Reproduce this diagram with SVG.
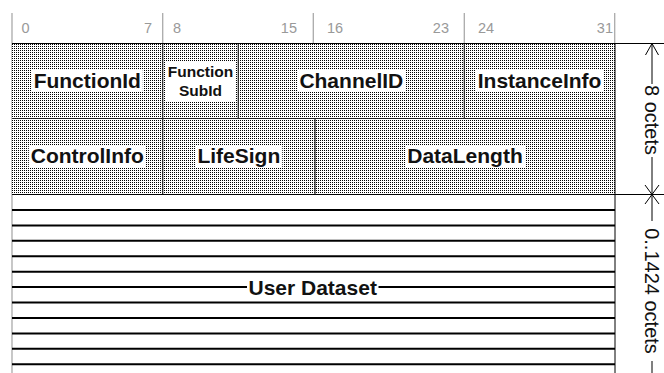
<svg xmlns="http://www.w3.org/2000/svg" width="664" height="373" viewBox="0 0 664 373">
<defs>
<pattern id="dots" width="2" height="2" patternUnits="userSpaceOnUse">
<rect width="2" height="2" fill="#fff"/>
<rect x="0" y="0" width="1" height="1" fill="#000"/>
</pattern>
<style>
.bit{font-family:"Liberation Sans",Arial,sans-serif;font-size:14.5px;fill:#999}
.lbl{font-family:"Liberation Sans",Arial,sans-serif;font-size:21px;font-weight:bold;fill:#111;text-anchor:middle}
.sm{font-size:15.5px}
.dim{font-family:"Liberation Sans",Arial,sans-serif;font-size:20px;fill:#111;text-anchor:middle}
.bg{fill:#fff}
.fld{fill:url(#dots)}
.tick{stroke:#aaa;stroke-width:1.3;fill:none}
.div{stroke:#222;stroke-width:1.2;fill:none}
.ud{stroke:#000;stroke-width:2;fill:none}
.ln{stroke:#000;stroke-width:1;fill:none}
</style>
</defs>
<rect width="664" height="373" fill="#fff"/>

<g id="bit-ruler">
<line class="tick" x1="12" y1="13" x2="12" y2="373"/>
<line class="tick" x1="162.7" y1="13" x2="162.7" y2="43"/>
<line class="tick" x1="313.3" y1="13" x2="313.3" y2="43"/>
<line class="tick" x1="464.3" y1="13" x2="464.3" y2="43"/>
<line class="tick" x1="614.7" y1="13" x2="614.7" y2="43"/>
<text class="bit" x="21.5" y="33">0</text>
<text class="bit" x="152" y="33" text-anchor="end">7</text>
<text class="bit" x="173" y="33">8</text>
<text class="bit" x="297" y="33" text-anchor="end">15</text>
<text class="bit" x="327" y="33">16</text>
<text class="bit" x="449" y="33" text-anchor="end">23</text>
<text class="bit" x="478" y="33">24</text>
<text class="bit" x="613" y="33" text-anchor="end">31</text>
</g>

<g id="FunctionId">
<rect class="fld" x="12" y="43" width="150.7" height="75"/>
<rect class="bg" x="31.8" y="70" width="111" height="22"/>
<text class="lbl" x="87.3" y="87.5">FunctionId</text>
</g>
<g id="FunctionSubId">
<rect class="fld" x="162.7" y="43" width="75.6" height="75"/>
<rect class="bg" x="165.5" y="62" width="70" height="39"/>
<text class="lbl sm" x="200.5" y="77">Function</text>
<text class="lbl sm" x="200.5" y="96">SubId</text>
</g>
<g id="ChannelID">
<rect class="fld" x="238.3" y="43" width="226" height="75"/>
<rect class="bg" x="297.3" y="70" width="108" height="22"/>
<text class="lbl" x="351.3" y="87.5">ChannelID</text>
</g>
<g id="InstanceInfo">
<rect class="fld" x="464.3" y="43" width="150.7" height="75"/>
<rect class="bg" x="475.6" y="70" width="128" height="22"/>
<text class="lbl" x="539.6" y="87.5">InstanceInfo</text>
</g>
<g id="ControlInfo">
<rect class="fld" x="12" y="118" width="150.7" height="76"/>
<rect class="bg" x="28.8" y="145.5" width="117" height="22.5"/>
<text class="lbl" x="87.3" y="163">ControlInfo</text>
</g>
<g id="LifeSign">
<rect class="fld" x="162.7" y="118" width="152.3" height="76"/>
<rect class="bg" x="195.3" y="145.5" width="87" height="22.5"/>
<text class="lbl" x="238.8" y="163">LifeSign</text>
</g>
<g id="DataLength">
<rect class="fld" x="315" y="118" width="300" height="76"/>
<rect class="bg" x="405" y="145.5" width="120" height="22.5"/>
<text class="lbl" x="465" y="163">DataLength</text>
</g>

<g id="header-borders">
<line class="div" x1="12" y1="118.5" x2="615" y2="118.5" stroke="#666"/>
<line class="div" x1="162.7" y1="43" x2="162.7" y2="194"/>
<line class="div" x1="238.3" y1="43" x2="238.3" y2="118"/>
<line class="div" x1="464.3" y1="43" x2="464.3" y2="118"/>
<line class="div" x1="315" y1="118" x2="315" y2="194"/>
<line class="ln" x1="12" y1="43.5" x2="664" y2="43.5"/>
<line class="ln" x1="12" y1="194.5" x2="664" y2="194.5" stroke-width="1.5"/>
<line class="ln" x1="615" y1="43" x2="615" y2="373"/>
</g>

<g id="UserDataset">
<line class="ud" x1="12" y1="209.9" x2="615" y2="209.9"/>
<line class="ud" x1="12" y1="225.4" x2="615" y2="225.4"/>
<line class="ud" x1="12" y1="240.8" x2="615" y2="240.8"/>
<line class="ud" x1="12" y1="256.2" x2="615" y2="256.2"/>
<line class="ud" x1="12" y1="271.7" x2="615" y2="271.7"/>
<line class="ud" x1="12" y1="287.1" x2="615" y2="287.1"/>
<line class="ud" x1="12" y1="302.5" x2="615" y2="302.5"/>
<line class="ud" x1="12" y1="317.9" x2="615" y2="317.9"/>
<line class="ud" x1="12" y1="333.4" x2="615" y2="333.4"/>
<line class="ud" x1="12" y1="348.8" x2="615" y2="348.8"/>
<line class="ud" x1="12" y1="364.2" x2="615" y2="364.2"/>
<rect class="bg" x="247" y="277" width="131.5" height="21"/>
<text class="lbl" x="312.7" y="294.8">User Dataset</text>
</g>

<g id="connectors">
<line class="ln" x1="652" y1="43.5" x2="652" y2="84"/>
<line class="ln" x1="652" y1="157" x2="652" y2="221"/>
<line class="ln" x1="652" y1="361" x2="652" y2="373"/>
<polyline class="ln" points="645.5,55 652,43.5 658.5,55"/>
<polyline class="ln" points="645,185 652,194.5 659,185"/>
<polyline class="ln" points="645,204 652,194.5 659,204"/>
<text class="dim" transform="translate(652,120) rotate(90)" y="7">8 octets</text>
<text class="dim" transform="translate(652,291) rotate(90)" y="7">0..1424 octets</text>
</g>
</svg>
